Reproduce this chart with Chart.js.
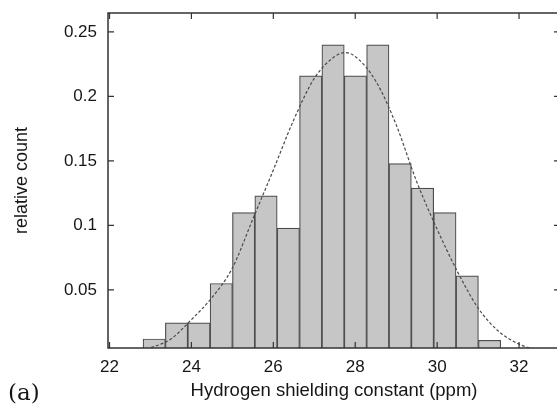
<!DOCTYPE html>
<html>
<head>
<meta charset="utf-8">
<title>Hydrogen shielding constant histogram</title>
<script src="https://cdn.jsdelivr.net/npm/chart.js@4/dist/chart.umd.min.js"></script>
<style>
  html, body { margin: 0; padding: 0; background: #fff; overflow: hidden; width: 557px; height: 407px; }
  #wrap { position: relative; width: 562px; height: 407px; }
</style>
</head>
<body>
<div id="wrap"><canvas id="c" width="562" height="407"></canvas></div>
<script>
// Histogram bins (centre of each bin, ppm) and their relative counts
const binCenters = [23.091, 23.637, 24.183, 24.729, 25.275, 25.821, 26.367, 26.913,
                    27.459, 28.005, 28.551, 29.097, 29.643, 30.189, 30.735, 31.281];
const relativeCount = [0.012, 0.0245, 0.0245, 0.055, 0.110, 0.123, 0.098, 0.216,
                       0.240, 0.216, 0.240, 0.148, 0.129, 0.110, 0.061, 0.011];

// Fitted normal curve, sampled along the shielding axis
const fitX = [22.9, 23.5, 24.0, 24.5, 25.0, 25.5, 26.0, 26.5, 27.0, 27.5, 27.75,
              28.0, 28.5, 29.0, 29.5, 30.0, 30.5, 31.0, 31.5, 32.0, 32.5];
const fitY = [0.004, 0.012, 0.027, 0.044, 0.067, 0.105, 0.143, 0.182, 0.214, 0.231, 0.234,
              0.231, 0.212, 0.178, 0.134, 0.097, 0.064, 0.036, 0.018, 0.008, 0.003];

// Axis ticks
const xTicks = [22, 24, 26, 28, 30, 32];
const xTickLabels = ['22', '24', '26', '28', '30', '32'];
const yTicks = [0.05, 0.1, 0.15, 0.2, 0.25];
const yTickLabels = ['0.05', '0.1', '0.15', '0.2', '0.25'];

const INK = '#161616';
Chart.defaults.font.family = '"Liberation Sans", Arial, Helvetica, sans-serif';
Chart.defaults.color = INK;

// Box round the plot with short inward tick marks on all four sides,
// plus the panel tag in the lower left corner
const framePlugin = {
  id: 'frame',
  afterDatasetsDraw(chart) {
    const { ctx, chartArea: a, scales: { x, y } } = chart;
    const len = 6;
    ctx.save();
    ctx.strokeStyle = '#333';
    ctx.lineWidth = 1.5;
    ctx.strokeRect(a.left, a.top, a.right - a.left, a.bottom - a.top);
    ctx.lineWidth = 1.2;
    ctx.beginPath();
    x.ticks.forEach(t => {
      const px = x.getPixelForValue(t.value);
      ctx.moveTo(px, a.bottom); ctx.lineTo(px, a.bottom - len);
      ctx.moveTo(px, a.top);    ctx.lineTo(px, a.top + len);
    });
    y.ticks.forEach(t => {
      const py = y.getPixelForValue(t.value);
      ctx.moveTo(a.left, py);  ctx.lineTo(a.left + len, py);
      ctx.moveTo(a.right, py); ctx.lineTo(a.right - len, py);
    });
    ctx.stroke();

    ctx.font = '23px "DejaVu Serif", "Liberation Serif", serif';
    ctx.fillStyle = INK;
    ctx.textAlign = 'left';
    ctx.textBaseline = 'alphabetic';
    ctx.fillText('(a)', 8, 400);
    ctx.restore();
  }
};

// Fixed axis boxes so the plot area keeps its place
function fixX(s) { s.height = 59; s.paddingLeft = 0; s.paddingRight = 0; }
function fixY(s) { s.width = 108; s.paddingTop = 0; s.paddingBottom = 0; }

new Chart(document.getElementById('c'), {
  type: 'bar',
  data: {
    datasets: [
      {
        type: 'line',
        label: 'normal fit',
        data: fitX.map((v, i) => ({ x: v, y: fitY[i] })),
        borderColor: '#4a4a4a',
        borderWidth: 1.2,
        borderDash: [3, 2],
        pointRadius: 0,
        fill: false,
        cubicInterpolationMode: 'monotone',
        order: 0
      },
      {
        type: 'bar',
        label: 'relative count',
        data: binCenters.map((v, i) => ({ x: v, y: relativeCount[i] })),
        backgroundColor: '#c6c6c6',
        borderColor: '#4d4d4d',
        borderWidth: 1.2,
        barPercentage: 1,
        categoryPercentage: 1,
        grouped: false,
        order: 1
      }
    ]
  },
  options: {
    responsive: false,
    animation: false,
    layout: { padding: { top: 13, right: 2, left: 0, bottom: 0 } },
    plugins: { legend: { display: false }, tooltip: { enabled: false } },
    scales: {
      x: {
        type: 'linear',
        offset: false,
        min: 21.963,
        max: 33,
        afterBuildTicks: s => { s.ticks = xTicks.map(v => ({ value: v })); },
        afterFit: fixX,
        grid: { display: false, drawTicks: false, offset: false },
        border: { display: false },
        ticks: {
          font: { size: 17 },
          padding: 9,
          maxRotation: 0,
          autoSkip: false,
          callback: (v, i) => xTickLabels[i]
        },
        title: {
          display: true,
          text: 'Hydrogen shielding constant (ppm)',
          font: { size: 18.5 },
          padding: { top: 0, bottom: 5 }
        }
      },
      y: {
        type: 'linear',
        min: 0.005,
        max: 0.2647,
        afterBuildTicks: s => { s.ticks = yTicks.map(v => ({ value: v })); },
        afterFit: fixY,
        grid: { display: false, drawTicks: false },
        border: { display: false },
        ticks: {
          font: { size: 17 },
          padding: 11,
          callback: (v, i) => yTickLabels[i]
        },
        title: {
          display: true,
          text: 'relative count',
          font: { size: 18 },
          padding: { top: 11, bottom: 0 }
        }
      }
    }
  },
  plugins: [framePlugin]
});
</script>
</body>
</html>
